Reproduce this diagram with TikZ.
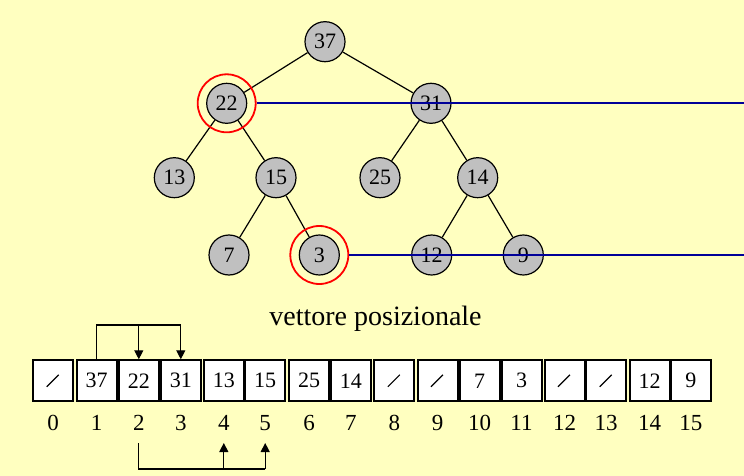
\documentclass[tikz,border=0pt]{standalone}
\usepackage{fontspec}
\setmainfont{Liberation Serif}
\usetikzlibrary{arrows.meta,calc}
\definecolor{bgyellow}{RGB}{255,255,192}
\definecolor{nodegray}{RGB}{192,192,192}
\definecolor{navyline}{RGB}{0,0,153}
\begin{document}
\begin{tikzpicture}[x=1pt,y=-1pt,
  tn/.style={circle,draw=black,fill=nodegray,line width=1.2pt,minimum size=40pt,inner sep=0pt,font=\fontsize{22}{24}\selectfont},
  ring/.style={circle,draw=red,line width=1.8pt,minimum size=58pt,inner sep=0pt},
  treeedge/.style={line width=1.2pt},
  cell/.style={rectangle,draw=black,fill=white,line width=2pt,minimum width=40pt,minimum height=41pt,inner sep=0pt,font=\fontsize{22}{24}\selectfont},
  idx/.style={anchor=base,inner sep=0pt,font=\fontsize{23}{25}\selectfont},
  conn/.style={line width=1.2pt},
  arrowtip/.style={conn,-{Triangle[length=9pt,width=9pt]}},
  slashline/.style={line width=1.2pt},
  bline/.style={draw=navyline,line width=1.8pt}]
\fill[bgyellow] (0,0) rectangle (744,476);
\useasboundingbox (0,0) rectangle (744,476);
% tree nodes
\node[tn] (n37) at (325,41.7) {37};
\node[tn] (n22) at (226.7,103.3) {22};
\node[tn] (n31) at (431,103.3) {31};
\node[tn] (n13) at (174.3,177.7) {13};
\node[tn] (n15) at (276,177.7) {15};
\node[tn] (n25) at (380,177.7) {25};
\node[tn] (n14) at (477.7,177.7) {14};
\node[tn] (n7) at (229,255) {7};
\node[tn] (n3) at (319.3,255) {3};
\node[tn] (n12) at (431.7,255) {12};
\node[tn] (n9) at (523.3,255) {9};
\draw[treeedge] (n37) -- (n22);
\draw[treeedge] (n37) -- (n31);
\draw[treeedge] (n22) -- (n13);
\draw[treeedge] (n22) -- (n15);
\draw[treeedge] (n31) -- (n25);
\draw[treeedge] (n31) -- (n14);
\draw[treeedge] (n15) -- (n7);
\draw[treeedge] (n15) -- (n3);
\draw[treeedge] (n14) -- (n12);
\draw[treeedge] (n14) -- (n9);
% red rings
\node[ring] (r22) at (n22) {};
\node[ring] (r3) at (n3) {};
% blue lines
\coordinate (b1) at (744,103.3);
\coordinate (b2) at (744,255);
\draw[bline] (r22.east) -- (b1);
\draw[bline] (r3.east) -- (b2);
% caption
\node[anchor=base,inner sep=0pt,font=\fontsize{28}{30}\selectfont] (cap) at (375.5,325) {vettore posizionale};
% array cells
\node[cell] (c0) at (53.2,380.8) {};
\node[cell] (c1) at (96.7,380.8) {37};
\node[cell] (c2) at (138.8,380.8) {22};
\node[cell] (c3) at (180.8,380.8) {31};
\node[cell] (c4) at (223.8,380.8) {13};
\node[cell] (c5) at (265.2,380.8) {15};
\node[cell] (c6) at (309.2,380.8) {25};
\node[cell] (c7) at (350.8,380.8) {14};
\node[cell] (c8) at (394.3,380.8) {};
\node[cell] (c9) at (437.5,380.8) {};
\node[cell] (c10) at (479.5,380.8) {7};
\node[cell] (c11) at (521.5,380.8) {3};
\node[cell] (c12) at (564.5,380.8) {};
\node[cell] (c13) at (606.2,380.8) {};
\node[cell] (c14) at (649.5,380.8) {12};
\node[cell] (c15) at (690.8,380.8) {9};
\foreach \c in {c0,c8,c9,c12,c13}{
  \draw[slashline] ($(\c)+(-6.5,6)$) -- ($(\c)+(5.5,-6)$);
}
% index labels
\foreach \i in {0,...,15}{
  \node[idx] (l\i) at (c\i |- 0,430.7) {\i};
}
% top arrows
\coordinate (topy) at (0,325);
\draw[conn] (c1.north) |- (c3.north |- topy);
\draw[arrowtip] (c2.north |- topy) -- (c2.north);
\draw[arrowtip] (c3.north |- topy) -- (c3.north);
% bottom arrows
\coordinate (boty) at (0,469);
\coordinate (ly) at (0,443);
\draw[conn] (l2 |- ly) |- (l5 |- boty);
\draw[arrowtip] (l4 |- boty) -- (l4 |- ly);
\draw[arrowtip] (l5 |- boty) -- (l5 |- ly);
\end{tikzpicture}
\end{document}
